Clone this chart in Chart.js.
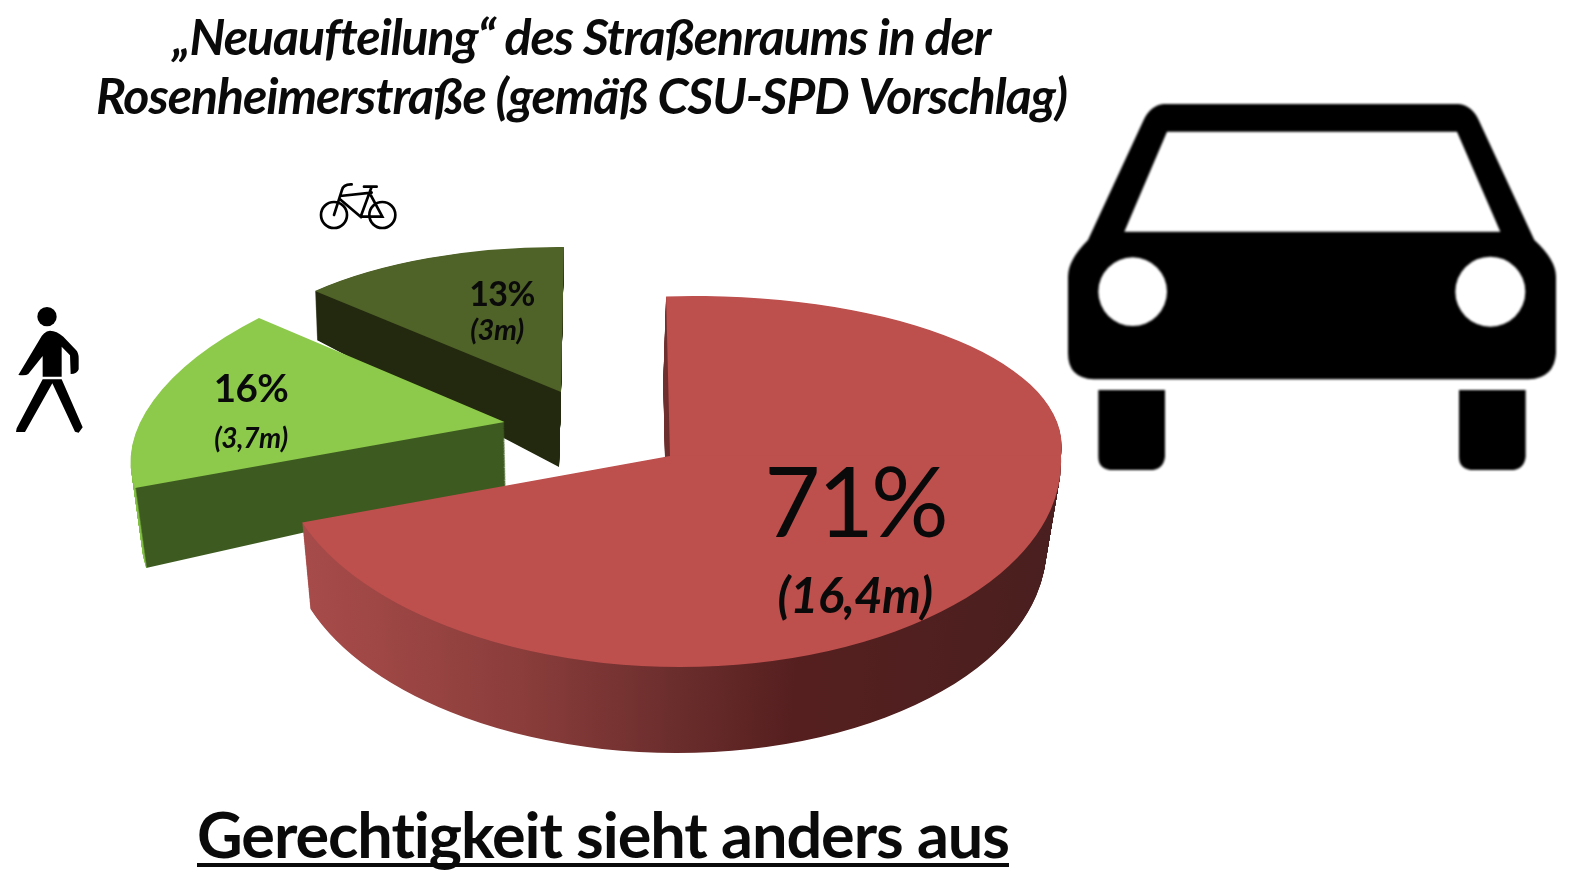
<!DOCTYPE html>
<html lang="de"><head><meta charset="utf-8">
<style>
html,body{margin:0;padding:0;background:#fff;width:1587px;height:881px;overflow:hidden}
#c{position:absolute;left:0;top:0}
svg{position:absolute;overflow:visible}
#slogan{position:absolute;left:0;top:796px;width:1206px;text-align:center;font:700 63px Lato,sans-serif;letter-spacing:-1.05px;color:#0a0a0a;text-decoration:underline;text-decoration-thickness:4px;text-underline-offset:5px;text-decoration-skip-ink:none;white-space:nowrap}
</style>
<script src="https://cdn.jsdelivr.net/npm/chart.js@4"></script>
</head><body>
<canvas id="c" width="1163" height="881"></canvas>
<div id="slogan">Gerechtigkeit sieht anders aus</div>
<!-- pedestrian + bicycle pictograms -->
<svg style="left:0;top:170px;filter:blur(.5px)" width="420" height="280" viewBox="0 0 1260 840">
<circle cx="141" cy="440" r="29"/>
<path d="M150 482 Q170 482 190 500 L228 540 Q236 548 236 565 L236 598 Q232 612 212 612 L210 556 L185 530 L185 620 L128 620 L128 558 L85 612 Q78 618 55 615 L118 510 Q130 484 150 482Z"/>
<path d="M128 628 L185 628 L248 772 L236 788 L225 785 L157 640 L75 786 L48 786 L50 775Z"/>
<g fill="none" stroke="#000" stroke-width="8" stroke-linecap="round">
<circle cx="1002" cy="135" r="39"/><circle cx="1147" cy="135" r="39"/>
<path d="M1055 43 Q1030 42 1026 60 L1002 135 M1020 78 L1115 68 M1020 88 L1082 140 L1115 50 M1092 50 L1130 50 M1082 140 L1147 140 L1112 75"/>
</g></svg>
<!-- car pictogram -->
<svg style="left:1050px;top:90px;filter:blur(1.2px)" width="530" height="390" viewBox="0 0 1568 1170">
<path fill-rule="evenodd" d="M330 42 L1215 42 Q1255 47 1275 90 L1442 450 Q1507 510 1507 560 L1507 790 Q1502 865 1425 868 L120 868 Q43 865 43 790 L43 560 Q43 510 103 450 L270 90 Q290 47 330 42Z M340 125 L1210 125 L1340 425 L212 425Z"/>
<circle cx="237" cy="605" r="103" fill="#fff"/><circle cx="1310" cy="605" r="105" fill="#fff"/>
<path d="M134 900 L334 900 L334 1100 Q329 1140 289 1140 L179 1140 Q134 1140 134 1100Z"/>
<path d="M1216 900 L1416 900 L1416 1100 Q1411 1140 1371 1140 L1261 1140 Q1216 1140 1216 1100Z"/>
</svg>
<script>
const titleLines = ['„Neuaufteilung“ des Straßenraums in der', 'Rosenheimerstraße (gemäß CSU-SPD Vorschlag)'];
const categories = ['Autos', 'Fußgänger', 'Radfahrer'];
const shares = [71, 16, 13];
const shareLabels = ['71%', '16%', '13%'];
const widthLabels = ['(16,4m)', '(3,7m)', '(3m)'];
const topColors = ['#bd4f4d', '#8dca4b', '#4f6227'];

// 3D look: how each slice's circle is projected on screen (style only)
const sliceViews = [
  {at:[670,456], parts:[{m:[391,0,-23.4,160],clip:-1},{m:[391,0,10,211],clip:1}],
   wall:{dx:-3,sx:.97,sh:0,dy:86}, stops:[[0,'#a84c4a'],[.1,'#a04846'],[.3,'#8a3d3b'],[.5,'#6a2d2c'],[.65,'#561f1f'],[1,'#4a1f1f']]},
  {at:[504.5,422], parts:[{m:[368.4,-10.5,-63.2,177.4],clip:0}],
   wall:{dx:1.5,sx:.974,sh:-.0406,dy:65}, stops:[[0,'#82bf45'],[.025,'#82bf45'],[.027,'#3d5b20'],[1,'#3d5b20']]},
  {at:[561,392], parts:[{m:[339.3,12.5,-26.7,144.5],clip:0}],
   wall:{dx:-2,sx:.984,sh:.106,dy:75}, stops:[[0,'#22290e'],[1,'#22290e']]}
];
const labelStyles = [
  {share:{x:855,y:506,font:'400 97px Lato',sp:'-3px'}, width:{x:855,y:597,font:'italic 700 49px Lato',sp:'-.6px'}},
  {share:{x:251,y:390,font:'700 38.5px Lato',sp:'-.5px'}, width:{x:251,y:439,font:'italic 700 28px Lato',sp:'-.4px'}},
  {share:{x:502,y:295,font:'700 34px Lato',sp:'-.6px'}, width:{x:497,y:331,font:'italic 700 29px Lato',sp:'-.4px'}}
];

function paint(ctx, el, view, fill, t){
  const R = el.outerRadius, saved = el.options;
  el.options = Object.assign({}, saved, {backgroundColor: fill});
  for (const p of view.parts){
    ctx.save();
    ctx.translate(view.at[0], view.at[1]);
    if (t) ctx.transform(1+(view.wall.sx-1)*t, view.wall.sh*t, 0, 1, view.wall.dx*t, view.wall.dy*t);
    ctx.transform(p.m[0]/R, p.m[1]/R, p.m[2]/R, p.m[3]/R, 0, 0);
    ctx.translate(-el.x, -el.y);
    if (p.clip){
      ctx.beginPath();
      if (p.clip < 0) ctx.rect(el.x-R-5, el.y-R-5, 2*R+10, R+5.3);
      else ctx.rect(el.x-R-5, el.y-.3, 2*R+10, R+5.3);
      ctx.clip();
    }
    el.draw(ctx);
    ctx.restore();
  }
  el.options = saved;
}

const projectedPie = {
  id:'projectedPie',
  beforeDraw(chart){ chart.ctx.letterSpacing = '-1.05px'; },
  beforeDatasetsDraw(chart){
    const ctx = chart.ctx, arcs = chart.getDatasetMeta(0).data;
    ctx.letterSpacing = '0px';
    [2,1,0].forEach(i=>{
      const el = arcs[i], v = sliceViews[i], R = el.outerRadius;
      const g = ctx.createLinearGradient(el.x-R,0,el.x+R,0);
      v.stops.forEach(s=>g.addColorStop(s[0],s[1]));
      const n = Math.ceil(v.wall.dy*1.3);
      for (let k=n;k>=1;k--) paint(ctx, el, v, g, k/n);
      paint(ctx, el, v, topColors[i], 0);
    });
    ctx.fillStyle = '#0a0a0a'; ctx.textAlign='center'; ctx.textBaseline='middle';
    labelStyles.forEach((s,i)=>{
      [[s.share,shareLabels[i]],[s.width,widthLabels[i]]].forEach(([o,txt])=>{
        ctx.font = o.font; ctx.letterSpacing = o.sp; ctx.fillText(txt,o.x,o.y);
      });
    });
    ctx.letterSpacing = '0px';
    return false;
  }
};

new Chart(document.getElementById('c'), {
  type:'pie',
  data:{labels:categories, datasets:[{data:shares, backgroundColor:topColors, borderWidth:0}]},
  options:{
    responsive:false, animation:false, events:[], rotation:-4,
    plugins:{
      legend:{display:false}, tooltip:{enabled:false},
      title:{display:true, text:titleLines, color:'#0a0a0a', padding:{top:9,bottom:0},
        font:{family:'Lato', size:50, weight:'bold', style:'italic', lineHeight:1.18}}
    }
  },
  plugins:[projectedPie]
});
</script>
</body></html>
